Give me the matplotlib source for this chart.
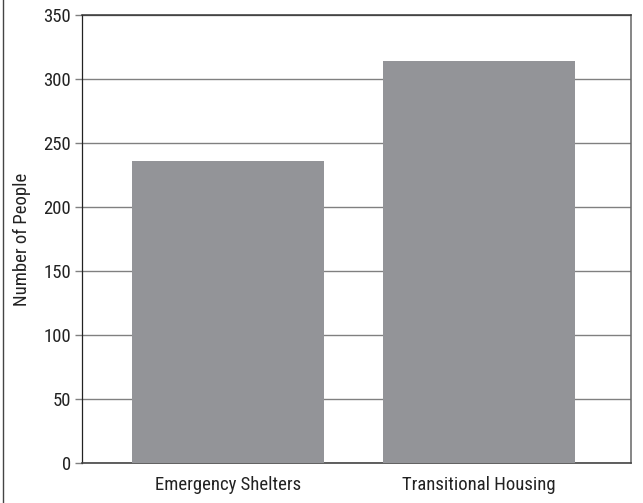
import matplotlib.pyplot as plt
from matplotlib.lines import Line2D

categories = ['Emergency Shelters', 'Transitional Housing']
people = [236, 314]
yticks = [0, 50, 100, 150, 200, 250, 300, 350]

plt.rcParams['font.family'] = ['Roboto Condensed', 'Liberation Sans Narrow', 'Roboto', 'DejaVu Sans']
plt.rcParams['font.stretch'] = 'condensed'

fig = plt.figure(figsize=(6.43, 5.03), dpi=100)
ax = fig.add_axes([0.1275, 0.0795, 0.8538, 0.8907])

x = list(range(len(categories)))
ax.bar(x, people, width=0.765, color='#939498', zorder=3)

ax.set_xlim(-0.582, 1.606)
ax.set_ylim(0, 350)
ax.set_yticks(yticks)
ax.set_xticks(x)
ax.set_xticklabels(categories, fontsize=13.5)
ax.tick_params(axis='x', length=0, pad=9, labelcolor='#222222')
ax.tick_params(axis='y', length=5, width=1, color='#808080', labelsize=13.5, pad=3, labelcolor='#222222')
ax.set_ylabel('Number of People', fontsize=13.5, labelpad=9, color='#222222')

ax.yaxis.grid(True, color='#808080', linewidth=1.0, zorder=0)

ax.spines['left'].set_color('#222222')
ax.spines['left'].set_linewidth(0.9)
ax.spines['bottom'].set_color('#444444')
ax.spines['bottom'].set_linewidth(1.2)
ax.spines['top'].set_color('#333333')
ax.spines['top'].set_linewidth(1.1)
ax.spines['right'].set_color('#666666')
ax.spines['right'].set_linewidth(1.1)

# thin border along the left edge of the figure
fig.add_artist(Line2D([0.004, 0.004], [0, 1], color='#444444', linewidth=1.0))

fig.savefig('out.png', dpi=100)
